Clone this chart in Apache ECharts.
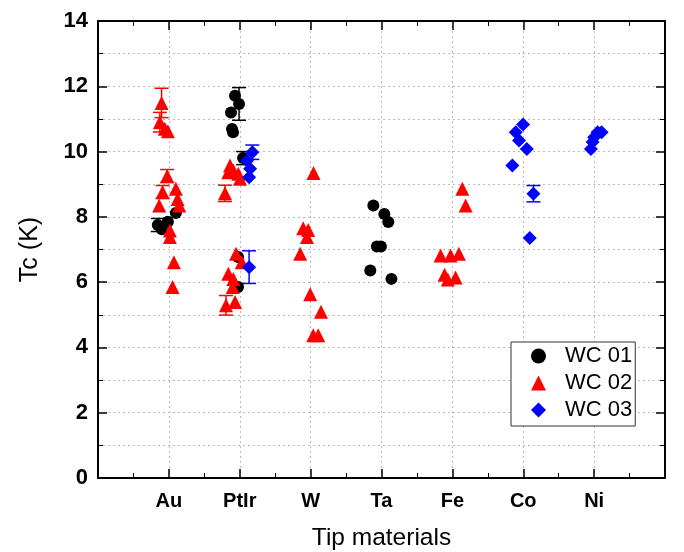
<!DOCTYPE html>
<html>
<head>
<meta charset="utf-8">
<script src="https://cdn.jsdelivr.net/npm/echarts@6/dist/echarts.min.js"></script>
<style>
  html, body { margin: 0; padding: 0; background: #fff; }
  #chart { width: 684px; height: 552px; }
</style>
</head>
<body>
<div id="chart"></div>
<script>
// tip materials sit on x = 1..7
const materials = ['Au', 'PtIr', 'W', 'Ta', 'Fe', 'Co', 'Ni']
const yTicks = [0, 2, 4, 6, 8, 10, 12, 14]

// [x, Tc, error] — error 0 means no bar
const wc01 = [
  [0.844, 7.75, 0.2], [0.901, 7.62, 0], [0.986, 7.85, 0], [1.099, 8.12, 0],
  [1.933, 11.71, 0], [1.990, 11.46, 0.5], [1.877, 11.20, 0], [1.891, 10.69, 0], [1.905, 10.59, 0],
  [2.047, 9.80, 0.2], [1.976, 6.77, 0], [1.976, 5.85, 0],
  [3.885, 8.35, 0], [4.040, 8.09, 0], [4.096, 7.84, 0], [3.935, 7.09, 0], [3.992, 7.09, 0],
  [3.842, 6.36, 0], [4.140, 6.10, 0]
]
const wc02 = [
  [0.897, 11.49, 0.45], [0.873, 10.90, 0.3], [0.943, 10.70, 0], [0.986, 10.62, 0],
  [0.976, 9.25, 0.2], [0.911, 8.76, 0.2], [1.099, 8.86, 0], [1.123, 8.55, 0], [1.146, 8.35, 0],
  [0.863, 8.35, 0], [1.014, 7.58, 0], [1.014, 7.38, 0], [1.071, 6.61, 0], [1.052, 5.85, 0],
  [1.863, 9.57, 0], [1.839, 9.37, 0], [1.909, 9.42, 0], [1.980, 9.32, 0], [2.004, 9.17, 0],
  [1.792, 8.72, 0.25], [1.948, 6.87, 0], [2.028, 6.61, 0], [1.839, 6.26, 0], [1.909, 6.10, 0],
  [1.901, 5.85, 0], [1.806, 5.29, 0.3], [1.934, 5.39, 0],
  [3.041, 9.34, 0], [2.895, 7.65, 0], [2.966, 7.60, 0], [2.948, 7.38, 0], [2.853, 6.87, 0],
  [2.994, 5.63, 0], [3.146, 5.09, 0], [3.037, 4.37, 0], [3.108, 4.37, 0],
  [4.833, 6.82, 0], [4.974, 6.82, 0], [5.092, 6.87, 0], [4.890, 6.23, 0], [4.936, 6.08, 0],
  [5.045, 6.14, 0], [5.140, 8.86, 0], [5.187, 8.35, 0]
]
const wc03 = [
  [2.178, 9.98, 0.22], [2.103, 9.72, 0], [2.146, 9.47, 0], [2.132, 9.21, 0], [2.132, 6.46, 0.5],
  [5.997, 10.83, 0], [5.894, 10.59, 0], [5.941, 10.34, 0], [6.050, 10.08, 0], [5.847, 9.57, 0],
  [6.144, 8.71, 0.25], [6.092, 7.35, 0],
  [6.955, 10.08, 0], [6.979, 10.29, 0], [7.001, 10.44, 0], [7.049, 10.59, 0], [7.106, 10.59, 0]
]

const font = 'Arial, "Liberation Sans", sans-serif'
const gridLine = { show: true, lineStyle: { color: '#bbb', type: [2, 3], width: 1 } }
const tickStyle = { color: '#000', width: 1.5 }

// error bars drawn through the axes
function errorSeries(data, color) {
  return {
    type: 'custom',
    z: 1,
    data: data.filter(d => d[2] > 0),
    renderItem: function (params, api) {
      const x = api.value(0), y = api.value(1), e = api.value(2)
      const hi = api.coord([x, y + e])
      const lo = api.coord([x, y - e])
      const w = 7
      const style = { stroke: color, lineWidth: 1.5 }
      return {
        type: 'group',
        children: [
          { type: 'line', shape: { x1: hi[0], y1: hi[1], x2: lo[0], y2: lo[1] }, style: style },
          { type: 'line', shape: { x1: hi[0] - w, y1: hi[1], x2: hi[0] + w, y2: hi[1] }, style: style },
          { type: 'line', shape: { x1: lo[0] - w, y1: lo[1], x2: lo[0] + w, y2: lo[1] }, style: style }
        ]
      }
    }
  }
}

const chart = echarts.init(document.getElementById('chart'))
chart.setOption({
  animation: false,
  grid: { left: 98, right: 19, top: 21, bottom: 74, outerBoundsMode: 'none', containLabel: false },
  legend: {
    data: ['WC 01', 'WC 02', 'WC 03'],
    orient: 'vertical',
    left: 511,
    top: 342,
    borderColor: '#333',
    borderWidth: 1,
    borderRadius: 0,
    backgroundColor: '#fff',
    padding: [3, 3, 5, 20],
    itemGap: 5,
    itemWidth: 15,
    itemHeight: 15,
    textStyle: { fontFamily: font, fontSize: 22, lineHeight: 22, color: '#000', padding: [0, 0, 0, 14] }
  },
  xAxis: [
    {
      type: 'value',
      min: 0,
      max: 8,
      interval: 1,
      name: 'Tip materials',
      nameLocation: 'middle',
      nameGap: 48,
      nameTextStyle: { fontFamily: font, fontSize: 24.5, color: '#000' },
      axisLine: { lineStyle: { color: '#000', width: 2 } },
      axisTick: { inside: true, length: 9, lineStyle: tickStyle },
      minorTick: { show: true, splitNumber: 2, length: 5, lineStyle: { color: '#000' } },
      axisLabel: {
        margin: 13,
        fontFamily: font,
        fontSize: 20,
        fontWeight: 'bold',
        color: '#000',
        formatter: v => materials[v - 1] || ''
      },
      splitLine: gridLine
    },
    {
      type: 'value', position: 'top', min: 0, max: 8, interval: 1,
      axisLine: { show: true, onZero: false, lineStyle: { color: '#000', width: 2 } },
      axisTick: { show: true, inside: true, length: 9, lineStyle: tickStyle },
      minorTick: { show: true, splitNumber: 2, length: 5, lineStyle: { color: '#000' } },
      axisLabel: { show: false }, splitLine: { show: false }
    }
  ],
  yAxis: [
    {
      type: 'value',
      min: 0,
      max: 14,
      interval: 2,
      name: 'Tc (K)',
      nameLocation: 'middle',
      nameGap: 55,
      nameTextStyle: { fontFamily: font, fontSize: 25, color: '#000' },
      axisLine: { show: true, lineStyle: { color: '#000', width: 2 } },
      axisTick: { show: true, inside: true, length: 9, lineStyle: tickStyle },
      minorTick: { show: true, splitNumber: 2, length: 5, lineStyle: { color: '#000' } },
      axisLabel: {
        margin: 10,
        fontFamily: font,
        fontSize: 22,
        fontWeight: 'bold',
        color: '#000',
        formatter: v => (yTicks.includes(v) ? String(v) : '')
      },
      splitLine: gridLine,
      minorSplitLine: gridLine
    },
    {
      type: 'value', position: 'right', min: 0, max: 14, interval: 2,
      axisLine: { show: true, onZero: false, lineStyle: { color: '#000', width: 2 } },
      axisTick: { show: true, inside: true, length: 9, lineStyle: tickStyle },
      minorTick: { show: true, splitNumber: 2, length: 5, lineStyle: { color: '#000' } },
      axisLabel: { show: false }, splitLine: { show: false }
    }
  ],
  series: [
    errorSeries(wc01, '#000'),
    errorSeries(wc02, '#ff0000'),
    errorSeries(wc03, '#0000ff'),
    {
      name: 'WC 01', type: 'scatter', z: 3,
      symbol: 'circle', symbolSize: 12,
      itemStyle: { color: '#000', opacity: 1 },
      data: wc01.map(d => [d[0], d[1]])
    },
    {
      name: 'WC 02', type: 'scatter', z: 3,
      symbol: 'triangle', symbolSize: 14,
      itemStyle: { color: '#ff0000', opacity: 1 },
      data: wc02.map(d => [d[0], d[1]])
    },
    {
      name: 'WC 03', type: 'scatter', z: 3,
      symbol: 'diamond', symbolSize: 14,
      itemStyle: { color: '#0000ff', opacity: 1 },
      data: wc03.map(d => [d[0], d[1]])
    }
  ]
})
</script>
</body>
</html>
